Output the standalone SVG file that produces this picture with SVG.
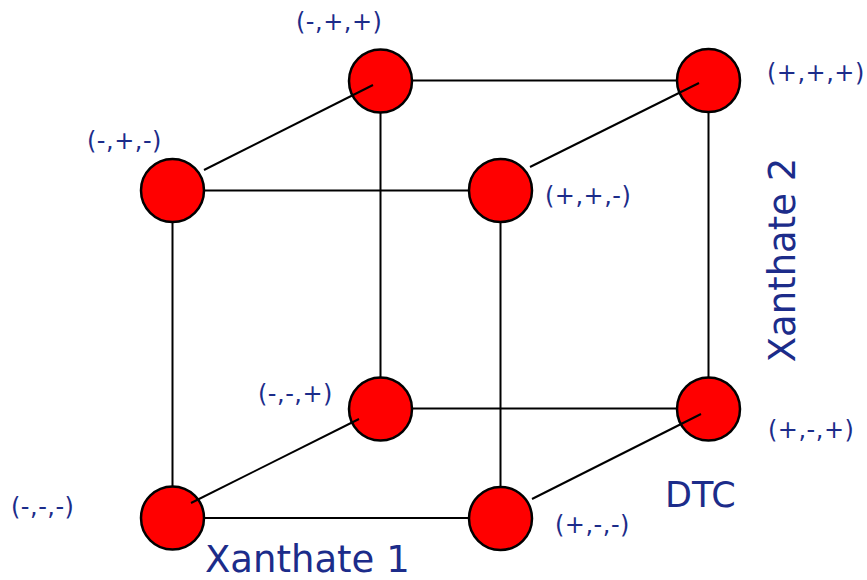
<svg xmlns="http://www.w3.org/2000/svg" width="867" height="580" viewBox="0 0 867 580">
<style>
.edge{stroke:#000;stroke-width:2;fill:none}
.node{fill:#ff0000;stroke:#000;stroke-width:2.5}
.lbl{font-family:"DejaVu Sans",Verdana,sans-serif;font-size:24px;fill:#1c2c8a;letter-spacing:0.5px}
.axis{font-family:"DejaVu Sans",Verdana,sans-serif;font-size:37px;fill:#1c2c8a}
</style>
<rect width="867" height="580" fill="#fff"/>
<g id="edges">
<line class="edge" x1="412" y1="80.5" x2="677" y2="80.5"/>
<line class="edge" x1="204" y1="190.5" x2="469" y2="190.5"/>
<line class="edge" x1="412" y1="408.5" x2="677" y2="408.5"/>
<line class="edge" x1="204" y1="518" x2="469" y2="518"/>
<line class="edge" x1="380.5" y1="112" x2="380.5" y2="378"/>
<line class="edge" x1="708.5" y1="112" x2="708.5" y2="378"/>
<line class="edge" x1="172.5" y1="222" x2="172.5" y2="488"/>
<line class="edge" x1="500.5" y1="222" x2="500.5" y2="488"/>
</g>
<g id="n-mpp"><circle class="node" cx="380.5" cy="81" r="31.5"/><text class="lbl" x="296" y="30">(-,+,+)</text></g>
<g id="n-ppp"><circle class="node" cx="708.5" cy="80.5" r="31.5"/><text class="lbl" x="767" y="81">(+,+,+)</text></g>
<g id="n-mpm"><circle class="node" cx="172.5" cy="190.5" r="31.5"/><text class="lbl" x="87" y="149">(-,+,-)</text></g>
<g id="n-ppm"><circle class="node" cx="500.5" cy="190.5" r="31.5"/><text class="lbl" x="545" y="204">(+,+,-)</text></g>
<g id="n-mmp"><circle class="node" cx="380.5" cy="409" r="31.5"/><text class="lbl" x="258" y="402">(-,-,+)</text></g>
<g id="n-pmp"><circle class="node" cx="708.5" cy="409" r="31.5"/><text class="lbl" x="768" y="438">(+,-,+)</text></g>
<g id="n-mmm"><circle class="node" cx="172.5" cy="518" r="31.5"/><text class="lbl" x="11" y="515">(-,-,-)</text></g>
<g id="n-pmm"><circle class="node" cx="500.5" cy="518.5" r="31.5"/><text class="lbl" x="555" y="533">(+,-,-)</text></g>
<g id="diagonals">
<line class="edge" x1="204" y1="170" x2="373" y2="85"/>
<line class="edge" x1="530" y1="167" x2="699" y2="83"/>
<line class="edge" x1="191" y1="503" x2="359" y2="419"/>
<line class="edge" x1="532" y1="499" x2="701" y2="414"/>
</g>
<g id="axes">
<text class="axis" x="205" y="572">Xanthate 1</text>
<text class="axis" x="795" y="260" text-anchor="middle" transform="rotate(-90 795 260)">Xanthate 2</text>
<text class="axis" x="665" y="507" style="font-size:35px">DTC</text>
</g>
</svg>
